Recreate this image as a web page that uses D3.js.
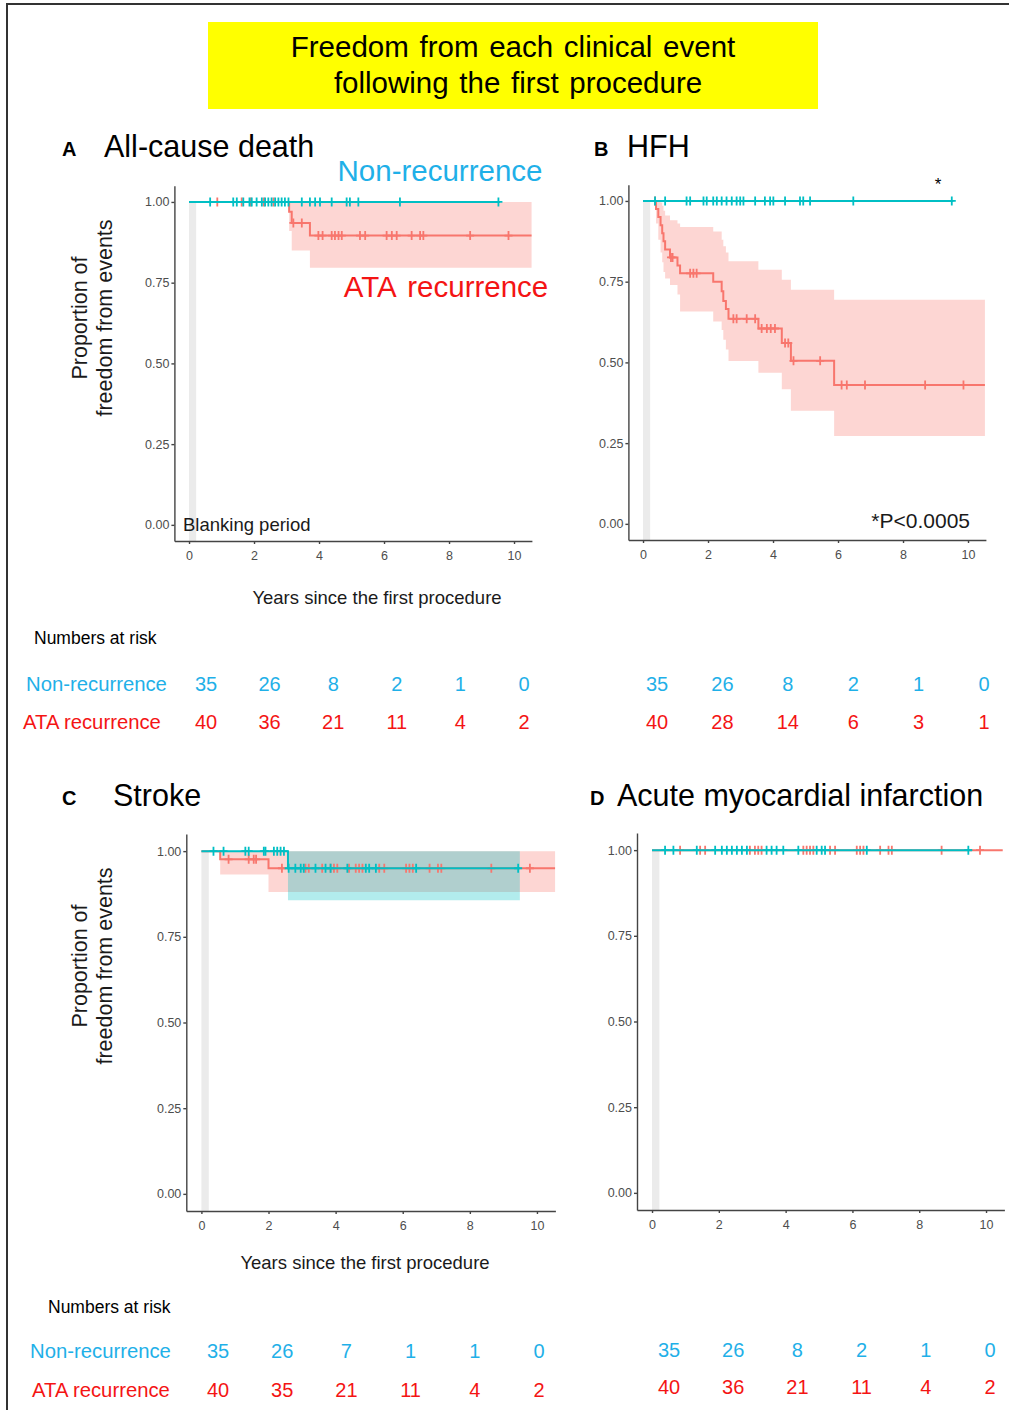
<!DOCTYPE html>
<html>
<head>
<meta charset="utf-8">
<script src="https://cdn.jsdelivr.net/npm/d3@7"></script>
<style>
  body { margin: 0; background: #fff; }
  svg text { font-family: "Liberation Sans", Arial, sans-serif; }
  .axis path, .axis line { stroke: #444; stroke-width: 1.4; }
  .axis text { fill: #4d4d4d; font-size: 12.5px; font-family: "Liberation Sans", Arial, sans-serif; }
</style>
</head>
<body>
<div class="content"></div>
<script>
// shared ticks
var tickYears = [0, 2, 4, 6, 8, 10];
var tickProps = [0, 0.25, 0.5, 0.75, 1];

// A: all-cause death
var aNonTimes = [0];
var aNonSurv = [1];
var aNonEnd = 9.57;
var aNonCensor = [0.65, 1.36, 1.47, 1.67, 1.86, 1.93, 2.08, 2.24, 2.34, 2.44, 2.54, 2.65, 2.75, 2.85, 2.95, 3.06, 3.47, 3.72, 3.88, 4.03, 4.39, 4.85, 4.95, 5.21, 6.49, 9.52];
var aAtaTimes = [0, 3.08, 3.16, 3.72];
var aAtaSurv = [1, 0.97, 0.935, 0.896];
var aAtaLower = [1, 0.91, 0.85, 0.796];
var aAtaUpper = [1, 1, 1, 1];
var aAtaEnd = 10.54;
var aAtaCensor = [0.87, 1.62, 1.9, 2.3, 2.6, 3.21, 3.47, 3.98, 4.11, 4.39, 4.49, 4.6, 4.7, 5.26, 5.42, 6.08, 6.24, 6.39, 6.85, 7.11, 7.21, 8.65, 9.83];
var aRiskNon = [35, 26, 8, 2, 1, 0];
var aRiskAta = [40, 36, 21, 11, 4, 2];

// B: HFH
var bNonTimes = [0];
var bNonSurv = [1];
var bNonEnd = 9.55;
var bNonCensor = [0.37, 0.68, 1.34, 1.45, 1.86, 1.96, 2.16, 2.27, 2.42, 2.57, 2.73, 2.88, 2.99, 3.09, 3.45, 3.75, 3.91, 4.01, 4.37, 4.83, 4.93, 5.14, 6.47, 9.5];
var bAtaTimes = [0, 0.4, 0.47, 0.54, 0.59, 0.63, 0.68, 0.83, 1.06, 1.14, 2.16, 2.42, 2.47, 2.55, 2.63, 3.55, 4.27, 4.55, 5.88];
var bAtaSurv = [1, 0.975, 0.95, 0.925, 0.9, 0.875, 0.85, 0.825, 0.8, 0.776, 0.75, 0.72, 0.69, 0.665, 0.635, 0.605, 0.56, 0.505, 0.43];
var bAtaLower = [1, 0.93, 0.88, 0.84, 0.81, 0.78, 0.76, 0.74, 0.71, 0.658, 0.627, 0.6, 0.57, 0.54, 0.504, 0.468, 0.417, 0.35, 0.272];
var bAtaUpper = [1, 1, 1, 0.995, 0.985, 0.97, 0.955, 0.94, 0.93, 0.919, 0.905, 0.88, 0.86, 0.84, 0.813, 0.787, 0.756, 0.725, 0.694];
var bAtaEnd = 10.52;
var bAtaCensor = [0.37, 0.86, 0.91, 1.45, 1.55, 1.65, 2.78, 2.88, 3.19, 3.45, 3.65, 3.81, 3.93, 4.06, 4.37, 4.47, 4.63, 5.45, 6.11, 6.27, 6.83, 8.68, 9.86];
var bRiskNon = [35, 26, 8, 2, 1, 0];
var bRiskAta = [40, 28, 14, 6, 3, 1];

// C: stroke
var cNonTimes = [0, 2.58];
var cNonSurv = [1, 0.95];
var cNonLower = [1, 0.857];
var cNonUpper = [1, 1];
var cNonEnd = 9.49;
var cNonCensor = [0.36, 0.66, 1.31, 1.41, 1.86, 1.91, 2.16, 2.26, 2.36, 2.46, 2.6, 2.8, 2.96, 3.05, 3.4, 3.7, 3.85, 4.35, 4.9, 5.0, 5.2, 6.4, 9.44];
var cAtaTimes = [0, 0.56, 2.0];
var cAtaSurv = [1, 0.976, 0.95];
var cAtaLower = [1, 0.932, 0.881];
var cAtaUpper = [1, 1, 1];
var cAtaEnd = 10.54;
var cAtaCensor = [0.81, 1.41, 1.56, 1.63, 2.4, 3.1, 3.2, 3.6, 3.85, 3.95, 4.05, 4.4, 4.6, 4.7, 4.8, 5.3, 5.45, 6.1, 6.2, 6.3, 6.8, 7.05, 7.15, 8.64, 9.79];
var cRiskNon = [35, 26, 7, 1, 1, 0];
var cRiskAta = [40, 35, 21, 11, 4, 2];

// D: acute myocardial infarction
var dNonTimes = [0];
var dNonSurv = [1];
var dNonEnd = 9.58;
var dNonCensor = [0.39, 0.64, 1.34, 1.89, 2.09, 2.24, 2.39, 2.54, 2.69, 2.84, 3.43, 3.58, 3.73, 3.93, 4.38, 4.93, 5.08, 5.18, 6.43, 9.47];
var dAtaTimes = [0];
var dAtaSurv = [1];
var dAtaEnd = 10.5;
var dAtaCensor = [0.84, 1.44, 1.59, 2.93, 3.08, 3.18, 3.28, 4.53, 4.63, 4.73, 4.83, 5.33, 5.48, 6.13, 6.23, 6.33, 6.83, 7.08, 7.18, 8.67, 9.82];
var dRiskNon = [35, 26, 8, 2, 1, 0];
var dRiskAta = [40, 36, 21, 11, 4, 2];

var cyanLine = "#00BFC4";
var redLine = "#F8766D";
var cyanText = "#1fb0e8";
var redText = "#f41414";

var svg = d3.select(".content").append("svg")
  .attr("width", 1009)
  .attr("height", 1410);

// outer frame
svg.append("rect")
  .attr("x", 7).attr("y", 4)
  .attr("width", 1020).attr("height", 1430)
  .attr("fill", "none")
  .attr("stroke", "#333")
  .attr("stroke-width", 2);

// title box
svg.append("rect")
  .attr("x", 208).attr("y", 22)
  .attr("width", 610).attr("height", 87)
  .attr("fill", "#ffff00");
svg.append("text").attr("x", 513).attr("y", 57)
  .attr("text-anchor", "middle").attr("font-size", 29.5).attr("word-spacing", 2.5)
  .text("Freedom from each clinical event");
svg.append("text").attr("x", 518).attr("y", 93)
  .attr("text-anchor", "middle").attr("font-size", 29.5).attr("word-spacing", 2.5)
  .text("following the first procedure");

function stepValue(times, surv, t) {
  var i = d3.bisectRight(times, t) - 1;
  return surv[Math.max(i, 0)];
}

function stepPoints(times, vals, end) {
  var pts = times.map(function(t, i) { return [t, vals[i]]; });
  pts.push([end, vals[vals.length - 1]]);
  return pts;
}

function drawPanel(p) {
  var x = d3.scaleLinear().domain([-0.45, 10.55]).range(p.xRange);
  var y = d3.scaleLinear().domain([-0.05, 1.05]).range(p.yRange);
  var g = svg.append("g");

  // blanking period
  g.append("rect")
    .attr("x", x(0))
    .attr("width", x(0.22) - x(0))
    .attr("y", y(1))
    .attr("height", y(-0.05) - y(1))
    .attr("fill", "#ebebeb");

  // confidence bands
  p.groups.forEach(function(s) {
    if (!s.lower) return;
    var pts = s.times.map(function(t, i) { return { t: t, lo: s.lower[i], hi: s.upper[i] }; });
    pts.push({ t: s.end, lo: s.lower[s.lower.length - 1], hi: s.upper[s.upper.length - 1] });
    var area = d3.area()
      .curve(d3.curveStepAfter)
      .x(function(d) { return x(d.t); })
      .y0(function(d) { return y(d.lo); })
      .y1(function(d) { return y(d.hi); });
    g.append("path")
      .datum(pts)
      .attr("d", area)
      .attr("fill", s.color)
      .attr("fill-opacity", 0.3);
  });

  // survival curves + censor marks
  var line = d3.line()
    .curve(d3.curveStepAfter)
    .x(function(d) { return x(d[0]); })
    .y(function(d) { return y(d[1]); });
  p.groups.forEach(function(s) {
    g.append("path")
      .datum(stepPoints(s.times, s.surv, s.end))
      .attr("d", line)
      .attr("fill", "none")
      .attr("stroke", s.color)
      .attr("stroke-width", 2);
    g.selectAll(null)
      .data(s.censor)
      .enter()
      .append("path")
      .attr("transform", function(t) { return "translate(" + x(t) + "," + y(stepValue(s.times, s.surv, t)) + ")"; })
      .attr("d", "M-4,0H4M0,-4.5V4.5")
      .attr("stroke", s.color)
      .attr("stroke-width", 1.8);
  });

  // axes
  g.append("g")
    .attr("class", "axis")
    .attr("transform", "translate(" + p.xRange[0] + ",0)")
    .call(d3.axisLeft(y).tickValues(tickProps).tickFormat(d3.format(".2f")).tickSize(3).tickSizeOuter(0).tickPadding(2));
  g.append("g")
    .attr("class", "axis")
    .attr("transform", "translate(0," + p.yRange[0] + ")")
    .call(d3.axisBottom(x).tickValues(tickYears).tickSize(3).tickSizeOuter(0).tickPadding(7));

  // panel letter and title
  svg.append("text").attr("x", p.letterX).attr("y", p.titleY)
    .attr("font-size", 20).attr("font-weight", "bold").text(p.letter);
  svg.append("text").attr("x", p.titleX).attr("y", p.titleY + 1)
    .attr("font-size", 30.5).text(p.title);

  // y axis title
  if (p.yTitle) {
    var yt = svg.append("text")
      .attr("transform", "translate(0," + p.yTitleY + ") rotate(-90)")
      .attr("text-anchor", "middle")
      .attr("font-size", 21.5)
      .attr("fill", "#1a1a1a");
    yt.append("tspan").attr("x", 0).attr("y", 87).text("Proportion of");
    yt.append("tspan").attr("x", 0).attr("y", 112).text("freedom from events");
  }

  // x axis title
  if (p.xTitle) {
    svg.append("text").attr("x", p.xTitleX).attr("y", p.xTitleY)
      .attr("text-anchor", "middle").attr("font-size", 18.5).attr("fill", "#1a1a1a")
      .text("Years since the first procedure");
  }

  // numbers at risk
  var rx = d3.scalePoint().domain(tickYears).range(p.riskRange);
  if (p.riskLabels) {
    svg.append("text").attr("x", p.riskHeadX).attr("y", p.riskHeadY)
      .attr("font-size", 17.5).text("Numbers at risk");
    svg.append("text").attr("x", p.riskLabelX[0]).attr("y", p.riskY[0])
      .attr("font-size", 20.3).attr("fill", cyanText).text("Non-recurrence");
    svg.append("text").attr("x", p.riskLabelX[1]).attr("y", p.riskY[1])
      .attr("font-size", 20.3).attr("fill", redText).text("ATA recurrence");
  }
  [[p.riskNon, cyanText], [p.riskAta, redText]].forEach(function(row, k) {
    svg.selectAll(null)
      .data(row[0])
      .enter()
      .append("text")
      .attr("x", function(d, i) { return rx(tickYears[i]); })
      .attr("y", p.riskY[k])
      .attr("text-anchor", "middle")
      .attr("font-size", 20)
      .attr("fill", row[1])
      .text(function(d) { return d; });
  });
  return { x: x, y: y };
}

var pa = drawPanel({
  xRange: [174.4, 531.9], yRange: [541, 185.8],
  letter: "A", letterX: 62, titleX: 104, titleY: 156, title: "All-cause death",
  yTitle: true, yTitleY: 318, xTitle: true, xTitleX: 377, xTitleY: 604,
  riskLabels: true, riskHeadX: 34, riskHeadY: 644, riskLabelX: [26, 23], riskY: [691, 729],
  riskRange: [206, 524], riskNon: aRiskNon, riskAta: aRiskAta,
  groups: [
    { times: aAtaTimes, surv: aAtaSurv, lower: aAtaLower, upper: aAtaUpper, end: aAtaEnd, censor: aAtaCensor, color: redLine },
    { times: aNonTimes, surv: aNonSurv, end: aNonEnd, censor: aNonCensor, color: cyanLine }
  ]
});
svg.append("text").attr("x", 183).attr("y", 531).attr("font-size", 18.5).attr("fill", "#1a1a1a").text("Blanking period");
svg.append("text").attr("x", 440).attr("y", 181).attr("text-anchor", "middle")
  .attr("font-size", 29.5).attr("word-spacing", 2).attr("fill", cyanText).text("Non-recurrence");
svg.append("text").attr("x", 446).attr("y", 297).attr("text-anchor", "middle")
  .attr("font-size", 29.5).attr("word-spacing", 4).attr("fill", redText).text("ATA recurrence");

var pb = drawPanel({
  xRange: [628.4, 985.9], yRange: [540, 184.8],
  letter: "B", letterX: 594, titleX: 627, titleY: 156, title: "HFH",
  yTitle: false, xTitle: false,
  riskLabels: false, riskY: [691, 729],
  riskRange: [657, 984], riskNon: bRiskNon, riskAta: bRiskAta,
  groups: [
    { times: bAtaTimes, surv: bAtaSurv, lower: bAtaLower, upper: bAtaUpper, end: bAtaEnd, censor: bAtaCensor, color: redLine },
    { times: bNonTimes, surv: bNonSurv, end: bNonEnd, censor: bNonCensor, color: cyanLine }
  ]
});
svg.append("text").attr("x", 938).attr("y", 190).attr("text-anchor", "middle").attr("font-size", 17).text("*");
svg.append("text").attr("x", 970).attr("y", 528).attr("text-anchor", "end").attr("font-size", 21).attr("fill", "#1a1a1a").text("*P<0.0005");

var pc = drawPanel({
  xRange: [186.3, 555.4], yRange: [1211, 834],
  letter: "C", letterX: 62, titleX: 113, titleY: 805, title: "Stroke",
  yTitle: true, yTitleY: 966, xTitle: true, xTitleX: 365, xTitleY: 1269,
  riskLabels: true, riskHeadX: 48, riskHeadY: 1313, riskLabelX: [30, 32], riskY: [1358, 1397],
  riskRange: [218, 539], riskNon: cRiskNon, riskAta: cRiskAta,
  groups: [
    { times: cAtaTimes, surv: cAtaSurv, lower: cAtaLower, upper: cAtaUpper, end: cAtaEnd, censor: cAtaCensor, color: redLine },
    { times: cNonTimes, surv: cNonSurv, lower: cNonLower, upper: cNonUpper, end: cNonEnd, censor: cNonCensor, color: cyanLine }
  ]
});

var pd = drawPanel({
  xRange: [637, 1004.4], yRange: [1210, 833],
  letter: "D", letterX: 590, titleX: 617, titleY: 805, title: "Acute myocardial infarction",
  yTitle: false, xTitle: false,
  riskLabels: false, riskY: [1357, 1394],
  riskRange: [669, 990], riskNon: dRiskNon, riskAta: dRiskAta,
  groups: [
    { times: dAtaTimes, surv: dAtaSurv, end: dAtaEnd, censor: dAtaCensor, color: redLine },
    { times: dNonTimes, surv: dNonSurv, end: dNonEnd, censor: dNonCensor, color: cyanLine }
  ]
});
</script>
</body>
</html>
